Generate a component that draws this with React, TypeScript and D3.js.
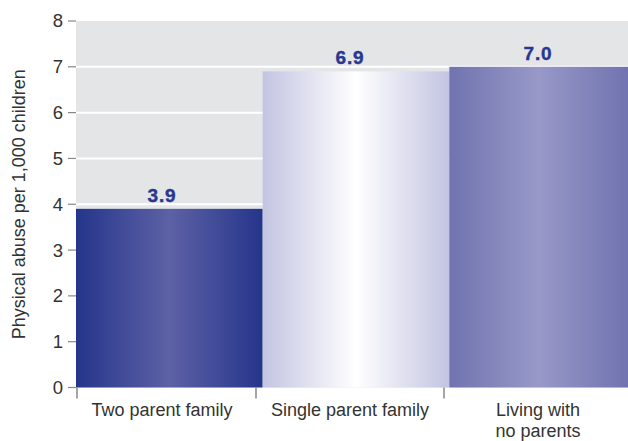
import React from "react";
import * as d3 from "d3";

const categories = ["Two parent family", "Single parent family", "Living with\nno parents"];
const values = [3.9, 6.9, 7.0];
const valueLabels = ["3.9", "6.9", "7.0"];
const yTicks = [0, 1, 2, 3, 4, 5, 6, 7, 8];
const gradients = [
  { edge: "#25358b", center: "#5d61a5" },
  { edge: "#c3c4e1", center: "#ffffff" },
  { edge: "#7073af", center: "#9899c8" },
];

export default function App() {
  const W = 628, H = 441;
  const left = 76, right = 628, top = 21, bottom = 387.5;
  const x = d3.scaleBand<string>().domain(categories).range([left, 636]).padding(0);
  const xl = d3.scaleBand<string>().domain(categories).range([68, 632]).padding(0);
  const y = d3.scaleLinear().domain([0, 8]).range([bottom, top]);
  const font = "'Liberation Sans', Arial, Helvetica, sans-serif";
  return (
    <svg width={W} height={H} style={{ position: "absolute", left: 0, top: 0 }}>
      <defs>
        {gradients.map((g, i) => (
          <linearGradient key={i} id={`g${i}`} x1="0" x2="1" y1="0" y2="0">
            <stop offset="0%" stopColor={g.edge} />
            <stop offset="50%" stopColor={g.center} />
            <stop offset="100%" stopColor={g.edge} />
          </linearGradient>
        ))}
      </defs>
      <rect x={left} y={top} width={right - left} height={bottom - top} fill="#e4e5e7" />
      {yTicks.filter((t) => t > 0 && t < 8).map((t) => (
        <line key={t} x1={left} x2={right} y1={y(t)} y2={y(t)} stroke="#ffffff" strokeWidth={2} />
      ))}
      {categories.map((c, i) => (
        <rect key={c} x={x(c)!} y={y(values[i])} width={Math.min(x.bandwidth(), right - x(c)!)} height={bottom - y(values[i])} fill={`url(#g${i})`} />
      ))}
      {categories.map((c, i) => (
        <text key={c} x={xl(c)! + xl.bandwidth() / 2} y={y(values[i]) - 7} textAnchor="middle" fontFamily={font} fontWeight="bold" fontSize={19} letterSpacing={0.8} fill="#283891" stroke="#283891" strokeWidth={0.4}>
          {valueLabels[i]}
        </text>
      ))}
      {yTicks.map((t) => (
        <g key={t}>
          <line x1={left - 8} x2={left} y1={y(t)} y2={y(t)} stroke="#888" strokeWidth={1.2} />
          <text x={63} y={y(t)} dy="0.35em" textAnchor="end" fontFamily={font} fontSize={18.5} fill="#333">{t}</text>
        </g>
      ))}
      {categories.map((c, i) => {
        const xx = i === 0 ? left + 1 : xl(c)!;
        return <line key={i} x1={xx} x2={xx} y1={bottom} y2={bottom + 11} stroke="#888" strokeWidth={1.5} />;
      })}
      {categories.map((c) => (
        <text key={c} x={xl(c)! + xl.bandwidth() / 2} y={416} textAnchor="middle" fontFamily={font} fontSize={18} fill="#333">
          {c.split("\n").map((line, j) => (
            <tspan key={j} x={xl(c)! + xl.bandwidth() / 2} dy={j === 0 ? 0 : 21}>{line}</tspan>
          ))}
        </text>
      ))}
      <text transform={`translate(25,${(top + bottom) / 2}) rotate(-90)`} textAnchor="middle" fontFamily={font} fontSize={18} fill="#333">
        Physical abuse per 1,000 children
      </text>
    </svg>
  );
}
